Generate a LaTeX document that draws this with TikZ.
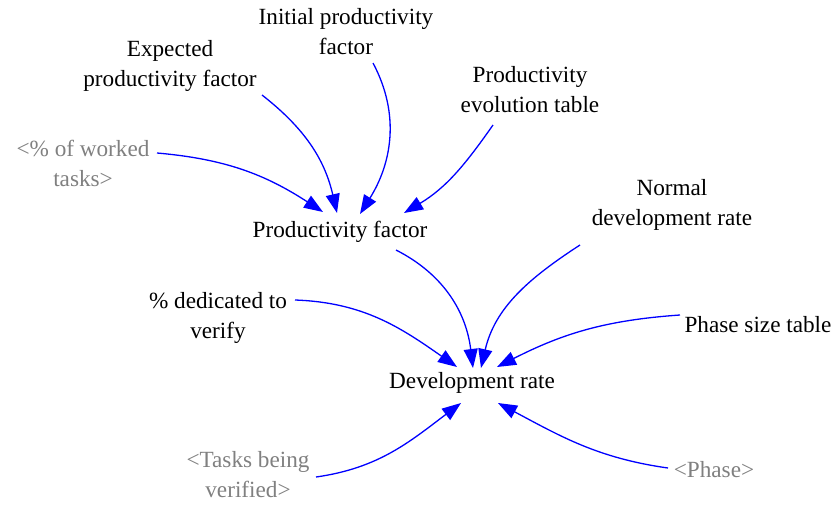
\documentclass[tikz,border=0pt]{standalone}
\usepackage{fontspec}
\setmainfont{Liberation Serif}
\usetikzlibrary{arrows.meta}
\definecolor{shadowgray}{RGB}{128,128,128}
\begin{document}
\begin{tikzpicture}[x=1pt,y=1pt,>={Triangle[length=19pt,width=14pt]},
        var/.style={align=center,inner sep=2pt,font=\rmfamily\fontsize{23.2}{30}\selectfont},
        shadow/.style={var,text=shadowgray},
        link/.style={->,blue,line width=1.3pt}]
        \useasboundingbox (0,0) rectangle (838,-504);
        % variables
        \node[var] (init) at (346,-32) {Initial productivity\\factor};
        \node[var] (expect) at (170,-66) {Expected\\productivity factor};
        \node[var] (evol) at (530,-90) {Productivity\\evolution table};
        \node[shadow] (worked) at (83,-163) {<\% of worked\\tasks>};
        \node[var] (prodfac) at (340,-232) {Productivity factor};
        \node[var] (normal) at (672,-205) {Normal\\development rate};
        \node[var] (verify) at (218,-318) {\% dedicated to\\verify};
        \node[var] (phasesize) at (758,-325) {Phase size table};
        \node[var] (devrate) at (472,-383) {Development rate};
        \node[shadow] (tasks) at (248,-475) {<Tasks being\\verified>};
        \node[shadow] (phase) at (714,-470) {<Phase>};
        % links into productivity factor
        \draw[link]([shift={(92,-29)}]expect.center)to[out=-38,in=103]([shift={(-3,19)}]prodfac.center);
        \draw[link]([shift={(27,-31)}]init.center)to[out=-62,in=58]([shift={(20,18)}]prodfac.center);
        \draw[link]([shift={(74,10)}]worked.center)to[out=-5,in=147]([shift={(-17,20)}]prodfac.center);
        \draw[link]([shift={(-37,-35)}]evol.center)to[out=-125,in=31]([shift={(64,19)}]prodfac.center);
        % links into development rate
        \draw[link]([shift={(56,-18)}]prodfac.center)to[out=-27,in=97]([shift={(1,15)}]devrate.center);
        \draw[link]([shift={(-92,-40)}]normal.center)to[out=-147,in=77]([shift={(9,15)}]devrate.center);
        \draw[link]([shift={(77,18)}]verify.center)to[out=-2,in=145]([shift={(-15,16)}]devrate.center);
        \draw[link]([shift={(-78,10)}]phasesize.center)to[out=184,in=27]([shift={(25,16)}]devrate.center);
        \draw[link]([shift={(68,-2)}]tasks.center)to[out=8,in=-143]([shift={(-11,-20)}]devrate.center);
        \draw[link]([shift={(-46,2)}]phase.center)to[out=172,in=-28]([shift={(26,-20)}]devrate.center);
\end{tikzpicture}
\end{document}
